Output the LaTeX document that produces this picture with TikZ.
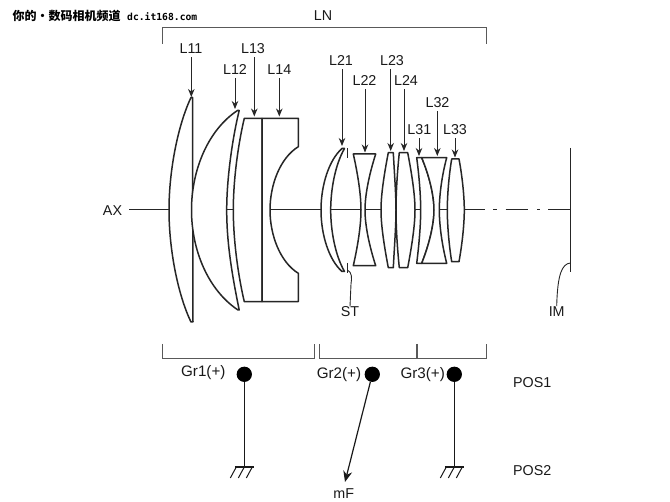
\documentclass[tikz,border=0pt]{standalone}
\usepackage{fontspec}
\setmainfont{Liberation Sans}
\newfontfamily\cjk{Noto Sans CJK SC}
\newfontfamily\wmono{DejaVu Sans Mono}
\usetikzlibrary{arrows.meta}
\tikzset{
  lens/.style={draw=black!85,line width=1.5pt,fill=white,line join=round},
  lab/.style={inner sep=0pt,yshift=-0.7pt,font=\fontsize{14.3}{16}\selectfont,text=black!90},
  grlab/.style={inner sep=0pt,yshift=-1pt,font=\fontsize{15.2}{17}\selectfont,text=black!90},
  lead/.style={draw=black!85,line width=1pt,-{Stealth[length=8pt,width=6.5pt]}},
  brace/.style={draw=black!65,line width=1pt},
  post/.style={draw=black!90,line width=1.2pt},
  ball/.style={circle,fill=black,inner sep=0pt,minimum size=15.3pt},
  fine/.style={draw=black!85,line width=0.9pt},
}
\begin{document}
\begin{tikzpicture}[x=1pt,y=-1pt]
\useasboundingbox (0,0) rectangle (670,502);
\fill[white] (0,0) rectangle (670,502);
% watermark
\node[inner sep=0pt,anchor=west,font=\cjk\fontsize{12}{13}\selectfont\bfseries] (wm1) at (12.5,16) {你的·数码相机频道};
\node[inner sep=0pt,anchor=west,font=\wmono\fontsize{9.7}{12}\selectfont\bfseries] (wm2) at (127,16.5) {dc.it168.com};
% axis
\node[lab] (AX) at (112.5,210) {AX};
\coordinate (axL) at (129,210);
\coordinate (axM) at (485,210);
\coordinate (axR) at (570,210);
\draw[black!85,line width=1pt] (axL) -- (axM);
\draw[black!85,line width=1pt] (493,210) -- (497,210) (505.7,210) -- (528,210) (537,210) -- (540,210) (548,210) -- (axR);
% image plane
\coordinate (imT) at (570.3,148);
\coordinate (imB) at (570.3,272);
\coordinate (imL) at (570.3,263);
\draw[black!85,line width=1.4pt] (imT) -- (imB);
\node[lab] (IM) at (556.7,310.5) {IM};
\draw[fine] (imL) .. controls (562,264) and (557.5,274) .. (IM.north);
% Group 1
\draw[lens] (191,97.5) .. controls (178,125) and (169,170) .. (169,210) .. controls (169,250) and (178,295) .. (191,322) -- (193,322) -- (192.5,97.5) -- cycle;
\draw[lens] (237.5,110.5) .. controls (208,130) and (191.5,170) .. (191.5,210) .. controls (191.5,250) and (208,290) .. (238,310) -- (239.2,310) .. controls (231,270) and (226.7,240) .. (226.7,210) .. controls (226.7,180) and (232,140) .. (239.2,110.5) -- cycle;
\draw[lens] (244.3,118.3) .. controls (238,145) and (233.3,180) .. (233.3,210) .. controls (233.3,240) and (238,275) .. (244.3,301.7) -- (262,301.7) -- (262,118.3) -- cycle;
\draw[lens] (262,118.3) -- (298.3,118.3) -- (298.3,146.7) .. controls (280,158) and (270,185) .. (270,210) .. controls (270,235) and (280,262) .. (298.3,273.3) -- (298.3,301.7) -- (262,301.7) -- cycle;
% Group 2
\draw[lens] (342,148.5) .. controls (329,160) and (321,185) .. (321,210) .. controls (321,235) and (329,260) .. (342,271.5) -- (344.5,271.5) .. controls (335,255) and (330.7,230) .. (330.7,210) .. controls (330.7,190) and (335,165) .. (344.5,148.5) -- cycle;
\draw[lens] (353.3,154) -- (375.7,154) .. controls (369,175) and (365,195) .. (365,210) .. controls (365,225) and (369,245) .. (375.7,265.7) -- (353.3,265.7) .. controls (358,245) and (361,225) .. (361,210) .. controls (361,195) and (358,175) .. (353.3,154) -- cycle;
\draw[lens] (388.3,152.7) -- (393.3,152.7) .. controls (394.5,175) and (396,195) .. (396,210) .. controls (396,225) and (394.5,245) .. (393.3,267.7) -- (388.3,267.7) .. controls (384,245) and (381,225) .. (381,210) .. controls (381,195) and (384,175) .. (388.3,152.7) -- cycle;
\draw[lens] (399.3,152.7) -- (407.7,152.7) .. controls (412,175) and (415,195) .. (415,210) .. controls (415,225) and (412,245) .. (407.7,267.7) -- (399.3,267.7) .. controls (397,245) and (396,225) .. (396,210) .. controls (396,195) and (397,175) .. (399.3,152.7) -- cycle;
\draw[black!85,line width=1.2pt] (347.3,148.3) -- (347.3,158);
\draw[black!85,line width=1.2pt] (347.3,263) -- (347.3,273);
\node[lab] (ST) at (350,311) {ST};
\draw[fine] (347.3,270) .. controls (352,272) and (352,278) .. (351,284) -- (ST.north);
% Group 3
\draw[lens] (416.7,157.7) -- (421.7,157.7) .. controls (429,175) and (434,195) .. (434,210) .. controls (434,225) and (429,245) .. (421.7,263.3) -- (416.7,263.3) .. controls (419,245) and (420.7,225) .. (420.7,210) .. controls (420.7,195) and (419,175) .. (416.7,157.7) -- cycle;
\draw[lens] (421.7,157.7) -- (446.7,157.7) .. controls (442,175) and (439.3,195) .. (439.3,210) .. controls (439.3,225) and (442,245) .. (446.7,263.3) -- (421.7,263.3) .. controls (429,245) and (434,225) .. (434,210) .. controls (434,195) and (429,175) .. (421.7,157.7) -- cycle;
\draw[lens] (451.7,159) -- (459,159) .. controls (462,175) and (464.3,195) .. (464.3,210) .. controls (464.3,225) and (462,245) .. (459,261.7) -- (451.7,261.7) .. controls (449,245) and (447.3,225) .. (447.3,210) .. controls (447.3,195) and (449,175) .. (451.7,159) -- cycle;
% labels and leaders
\node[lab] (L11) at (191,48) {L11};
\node[lab] (L12) at (235,69) {L12};
\node[lab] (L13) at (253,48) {L13};
\node[lab] (L14) at (279.3,69) {L14};
\node[lab] (L21) at (341,60) {L21};
\node[lab] (L22) at (364.5,80) {L22};
\node[lab] (L23) at (392,60) {L23};
\node[lab] (L24) at (406,80) {L24};
\node[lab] (L31) at (419.3,129) {L31};
\node[lab] (L32) at (437.5,102) {L32};
\node[lab] (L33) at (455,129) {L33};
\coordinate (t11) at (191.3,97);
\coordinate (t12) at (235,109);
\coordinate (t13) at (254.3,116.5);
\coordinate (t14) at (279.3,116.5);
\coordinate (t21) at (342,146);
\coordinate (t22) at (365,152.5);
\coordinate (t23) at (390.7,151);
\coordinate (t24) at (404,151);
\coordinate (t31) at (419,156);
\coordinate (t32) at (437.3,156);
\coordinate (t33) at (455,157.5);
\foreach \n in {11,12,13,14,21,22,23,24,31,32,33}
  \draw[lead] ([yshift=-3.5pt]t\n |- L\n.south) -- (t\n);
% LN bracket
\node[lab] (LN) at (323,15) {LN};
\draw[brace] (162.3,44) -- (162.3,28) -- (486.7,28) -- (486.7,44);
% group brackets
\draw[brace] (162.3,344) -- (162.3,359) -- (314.7,359) -- (314.7,344);
\draw[brace] (319.3,344) -- (319.3,359) -- (416,359) -- (416,344);
\draw[brace] (417.7,344) -- (417.7,359) -- (486,359) -- (486,344);
\node[grlab] (G1) at (203.3,372) {Gr1(+)};
\node[grlab] (G2) at (339,373.5) {Gr2(+)};
\node[grlab] (G3) at (422.7,373.5) {Gr3(+)};
\node[ball] (B1) at (244.3,374.3) {};
\node[ball] (B2) at (372.3,374.3) {};
\node[ball] (B3) at (454.3,374.3) {};
\coordinate (g1) at (244.3,467);
\coordinate (g3) at (454.3,467);
\coordinate (mFtip) at (345,482);
\node[lab] (MF) at (343.7,493) {mF};
\node[lab,anchor=west] (P1) at (513,382) {POS1};
\node[lab,anchor=west] (P2) at (513,470) {POS2};
\draw[post] (B1) -- (g1);
\draw[post] (B3) -- (g3);
\draw[draw=black!90,line width=1.2pt,-{Stealth[length=11pt,width=9pt]}] (B2) -- (mFtip);
\foreach \g in {g1,g3}{
  \draw[post] ([xshift=-9.5pt]\g) -- ([xshift=9.5pt]\g);
  \foreach \d in {-8,0,8}
    \draw[draw=black!90,line width=1pt] ([xshift=\d pt]\g) -- ([xshift=\d pt-6pt,yshift=-11pt]\g);
}
\end{tikzpicture}
\end{document}
